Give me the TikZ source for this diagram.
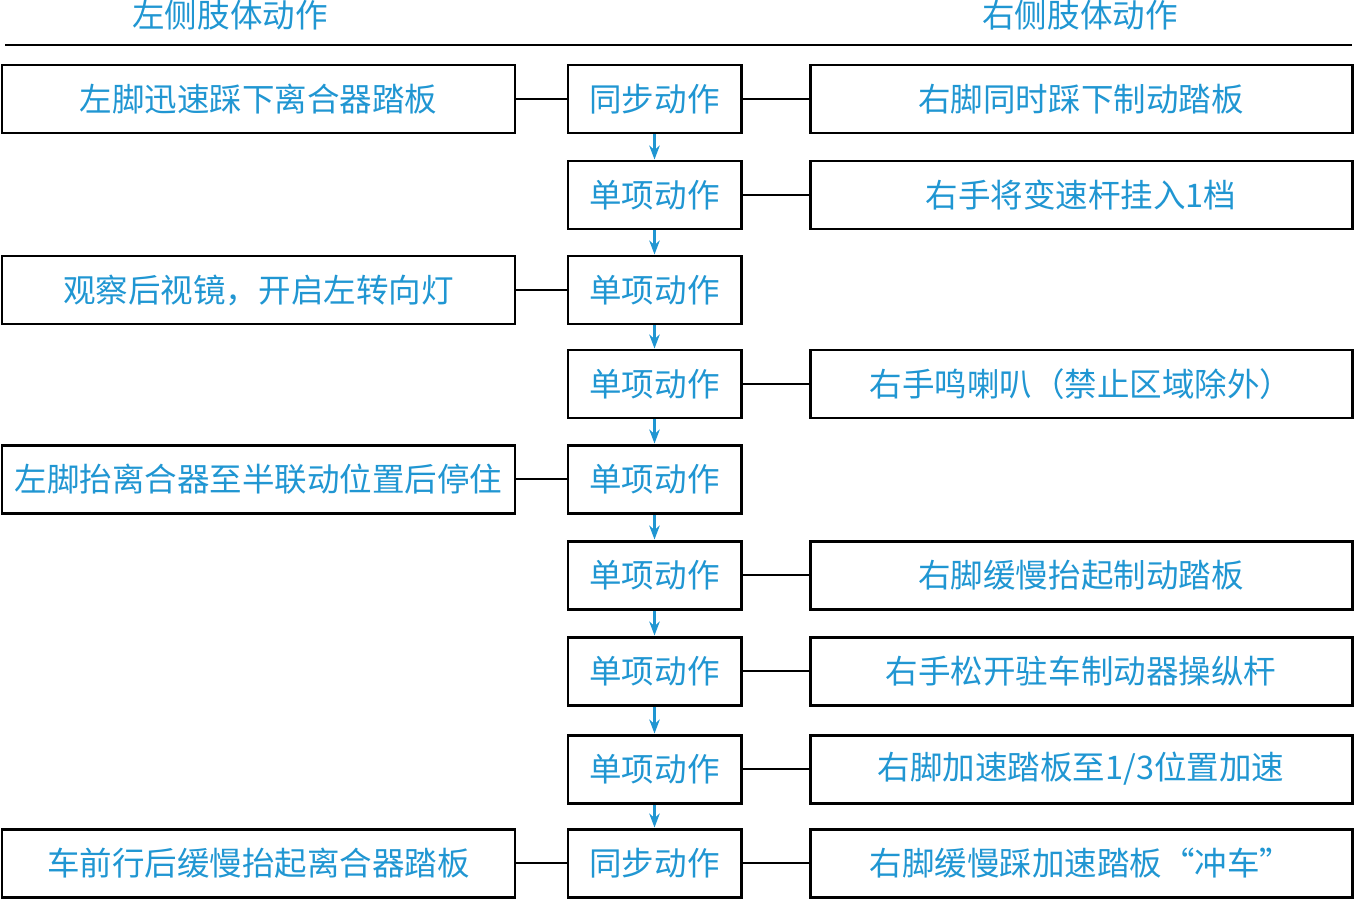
\documentclass[tikz,border=0pt]{standalone}
\usepackage{fontspec}
\setmainfont{Noto Sans CJK SC}
\usetikzlibrary{arrows.meta}
\definecolor{txtblue}{RGB}{32,150,210}

\begin{document}
\begin{tikzpicture}[x=1cm,y=1cm,
  every node/.style={inner sep=0pt,font=\fontsize{18.5}{20}\selectfont,text=txtblue},
  sidebox/.style={draw=black,line width=1.7pt,minimum height=1.36cm},
  leftbox/.style={sidebox,minimum width=10.26cm},
  actbox/.style={sidebox,minimum width=3.46cm},
  rightbox/.style={sidebox,minimum width=10.84cm},
  link/.style={black,line width=1.2pt},
  flow/.style={txtblue,line width=1.2pt,-{Stealth[length=8pt,width=6pt]}}]
\useasboundingbox (0,0) rectangle (27.10,-17.98);
\node (headL) at (4.60,-0.30) {左侧肢体动作};
\node (headR) at (21.60,-0.30) {右侧肢体动作};
\draw[black,line width=1.2pt] (0.10,-0.90) -- (27.04,-0.90);
\node[leftbox] (left1) at (5.17,-1.98) {左脚迅速踩下离合器踏板};
\node[leftbox] (left3) at (5.17,-5.80) {观察后视镜，开启左转向灯};
\node[leftbox] (left5) at (5.17,-9.58) {左脚抬离合器至半联动位置后停住};
\node[leftbox] (left9) at (5.17,-17.26) {车前行后缓慢抬起离合器踏板};
\node[actbox] (act1) at (13.09,-1.98) {同步动作};
\node[actbox] (act2) at (13.09,-3.90) {单项动作};
\node[actbox] (act3) at (13.09,-5.80) {单项动作};
\node[actbox] (act4) at (13.09,-7.68) {单项动作};
\node[actbox] (act5) at (13.09,-9.58) {单项动作};
\node[actbox] (act6) at (13.09,-11.50) {单项动作};
\node[actbox] (act7) at (13.09,-13.42) {单项动作};
\node[actbox] (act8) at (13.09,-15.38) {单项动作};
\node[actbox] (act9) at (13.09,-17.26) {同步动作};
\node[rightbox] (right1) at (21.62,-1.98) {右脚同时踩下制动踏板};
\node[rightbox] (right2) at (21.62,-3.90) {右手将变速杆挂入1档};
\node[rightbox] (right4) at (21.62,-7.68) {右手鸣喇叭（禁止区域除外）};
\node[rightbox] (right6) at (21.62,-11.50) {右脚缓慢抬起制动踏板};
\node[rightbox] (right7) at (21.62,-13.42) {右手松开驻车制动器操纵杆};
\node[rightbox] (right8) at (21.62,-15.38) {右脚加速踏板至1/3位置加速};
\node[rightbox] (right9) at (21.62,-17.26) {右脚缓慢踩加速踏板“冲车”};
\draw[link] (left1) -- (act1);
\draw[link] (left3) -- (act3);
\draw[link] (left5) -- (act5);
\draw[link] (left9) -- (act9);
\draw[link] (act1) -- (right1);
\draw[link] (act2) -- (right2);
\draw[link] (act4) -- (right4);
\draw[link] (act6) -- (right6);
\draw[link] (act7) -- (right7);
\draw[link] (act8) -- (right8);
\draw[link] (act9) -- (right9);
\draw[flow] (act1) -- (act2);
\draw[flow] (act2) -- (act3);
\draw[flow] (act3) -- (act4);
\draw[flow] (act4) -- (act5);
\draw[flow] (act5) -- (act6);
\draw[flow] (act6) -- (act7);
\draw[flow] (act7) -- (act8);
\draw[flow] (act8) -- (act9);
\end{tikzpicture}
\end{document}
